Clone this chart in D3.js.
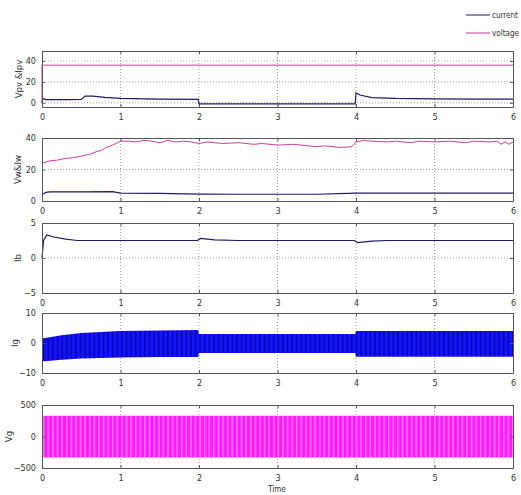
<!DOCTYPE html>
<html>
<head>
<meta charset="utf-8">
<script src="https://cdn.jsdelivr.net/npm/d3@7"></script>
<style>
  body { margin: 0; background: #fff; }
  text { font-family: "Liberation Sans Narrow", "DejaVu Sans Condensed", sans-serif; fill: #333; }
</style>
</head>
<body>
<script>
// Data (time in s)
const xTicks = [0, 1, 2, 3, 4, 5, 6];

// panel 1: PV voltage and current
const pvTime    = [0, 0, 0.02, 6];
const pvVoltage = [0, 36, 36, 36];
const pvCurTime = [0, 0.01, 0.05, 0.3, 0.5, 0.55, 0.65, 0.8, 1.0, 1.5, 1.99, 2.0, 3.99, 4.0, 4.05, 4.2, 4.5, 5, 5.5, 6];
const pvCurrent = [0, 4, 3, 3, 3.3, 6.5, 6.3, 5.2, 4.2, 3.6, 3.3, -1, -1, 9.5, 7.5, 5, 4.2, 3.7, 3.6, 3.5];

// panel 2: wind voltage and current
const wVoltTime = [0, 0.1, 0.2, 0.3, 0.4, 0.5, 0.55, 0.6, 0.7, 0.75, 0.8, 0.9, 1.0, 1.1, 1.2, 1.3, 1.4, 1.5, 1.6, 1.7, 1.8, 1.9, 2.0, 2.1, 2.2, 2.3, 2.5, 2.7, 2.8, 3.0, 3.2, 3.4, 3.5, 3.6, 3.8, 3.95, 4.0, 4.1, 4.2, 4.4, 4.5, 4.7, 4.8, 5.0, 5.2, 5.4, 5.5, 5.7, 5.8, 5.85, 5.9, 5.95, 6];
const wVoltage  = [24, 25.5, 26, 27, 27.5, 28.5, 29, 29.5, 31.5, 32, 33.5, 35.5, 38, 38, 37.5, 38.5, 38, 37, 38.5, 37.5, 38, 37.5, 36.5, 37.5, 37, 36.5, 37, 36, 36.5, 35.5, 36, 35, 34.5, 35, 34, 34.5, 37.5, 38.5, 38, 37.5, 38, 37, 38, 37.5, 38, 37, 38, 37.5, 38, 36, 37.5, 36, 37.5];
const wCurTime  = [0, 0.05, 0.1, 0.5, 0.9, 1.0, 1.5, 2.0, 2.5, 3.0, 3.5, 4.0, 4.5, 5.0, 5.5, 6];
const wCurrent  = [4, 5.5, 5.8, 5.8, 6, 5, 4.8, 4.4, 4.3, 4.3, 4.3, 5, 5, 5, 5, 5];

// panel 3: battery current
const ibTime    = [0, 0.02, 0.06, 0.15, 0.3, 0.45, 1.0, 1.5, 1.98, 2.02, 2.2, 2.5, 3.0, 3.5, 3.98, 4.02, 4.2, 4.4, 5.0, 6];
const ibValue   = [0, 2.5, 3.3, 3.0, 2.7, 2.5, 2.5, 2.5, 2.5, 2.8, 2.6, 2.5, 2.5, 2.5, 2.5, 2.2, 2.4, 2.5, 2.5, 2.5];

// panel 4: grid current envelope (dense oscillation)
const igTime    = [0, 0.25, 0.5, 1.0, 1.5, 1.99, 2.0, 3.0, 3.99, 4.0, 5.0, 6];
const igUpper   = [1.5, 2.6, 3.3, 4.0, 4.2, 4.3, 3.0, 3.0, 3.0, 4.0, 4.0, 4.0];
const igLower   = [-6.2, -5.6, -5.2, -4.8, -4.7, -4.7, -3.3, -3.3, -3.3, -4.6, -4.6, -4.6];

// panel 5: grid voltage envelope
const vgTime    = [0, 6];
const vgUpper   = [330, 330];
const vgLower   = [-335, -335];

const yTicks = [[0, 20, 40], [0, 20, 40], [-5, 0, 5], [-10, 0, 10], [-500, 0, 500]];
const yLabels = ["Vpv &Ipv", "Vw&Iw", "Ib", "Ig", "Vg"];
const legendNames = ["current", "voltage"];

// layout
const W = 521, H = 495;
const left = 42, right = 513;
const panels = [
  { top: 51,  bottom: 107, domain: [-4, 49.5], labelX: 22 },
  { top: 138, bottom: 201, domain: [0, 40],    labelX: 21 },
  { top: 223, bottom: 293, domain: [-5, 5],    labelX: 21 },
  { top: 313, bottom: 373, domain: [-10, 10],  labelX: 18 },
  { top: 405, bottom: 468, domain: [-500, 500], labelX: 12 }
];
const navy = "#1c1c66", pink = "#cc3d9e", blue = "#1414ff", magenta = "#ff1aff";

const svg = d3.select("body").append("svg")
    .attr("width", W)
    .attr("height", H);

// stripe textures for the dense AC signals
const defs = svg.append("defs");
function stripes(id, base, stripe, op) {
  const p = defs.append("pattern").attr("id", id)
      .attr("patternUnits", "userSpaceOnUse")
      .attr("x", left).attr("width", 4.6).attr("height", 10);
  p.append("rect").attr("width", 4.6).attr("height", 10).attr("fill", base);
  p.append("rect").attr("x", 1).attr("width", 1.4).attr("height", 10)
      .attr("fill", stripe).attr("opacity", op);
}
stripes("blueStripe", blue, "#00008c", 0.8);
stripes("pinkStripe", magenta, "#ff90ff", 0.8);

const x = d3.scaleLinear().domain([0, 6]).range([left, right]);

const zip = (ts, vs) => ts.map((t, i) => [t, vs[i]]);
const zip3 = (ts, a, b) => ts.map((t, i) => [t, a[i], b[i]]);

panels.forEach((p, k) => {
  const y = d3.scaleLinear().domain(p.domain).range([p.bottom, p.top]);
  const g = svg.append("g");

  // grid
  g.selectAll(".gx").data(xTicks.slice(1, -1)).enter().append("line")
      .attr("x1", d => x(d)).attr("x2", d => x(d))
      .attr("y1", p.top).attr("y2", p.bottom)
      .attr("stroke", "#888").attr("stroke-width", 0.8).attr("stroke-dasharray", "1,2");
  g.selectAll(".gy").data(yTicks[k].filter(v => y(v) > p.top + 1 && y(v) < p.bottom - 1)).enter().append("line")
      .attr("x1", left).attr("x2", right)
      .attr("y1", d => y(d)).attr("y2", d => y(d))
      .attr("stroke", "#888").attr("stroke-width", 0.8).attr("stroke-dasharray", "1,2");

  const line = d3.line().x(d => x(d[0])).y(d => y(d[1]));
  const band = d3.area().x(d => x(d[0])).y0(d => y(d[2])).y1(d => y(d[1]));

  if (k === 0) {
    g.append("path").datum(zip(pvTime, pvVoltage)).attr("d", line)
        .attr("fill", "none").attr("stroke", pink).attr("stroke-width", 1);
    g.append("path").datum(zip(pvCurTime, pvCurrent)).attr("d", line)
        .attr("fill", "none").attr("stroke", navy).attr("stroke-width", 1.2);
  } else if (k === 1) {
    g.append("path").datum(zip(wVoltTime, wVoltage)).attr("d", line)
        .attr("fill", "none").attr("stroke", pink).attr("stroke-width", 1);
    g.append("path").datum(zip(wCurTime, wCurrent)).attr("d", line)
        .attr("fill", "none").attr("stroke", navy).attr("stroke-width", 1.2);
  } else if (k === 2) {
    g.append("path").datum(zip(ibTime, ibValue)).attr("d", line)
        .attr("fill", "none").attr("stroke", navy).attr("stroke-width", 1.2);
  } else if (k === 3) {
    g.append("path").datum(zip3(igTime, igUpper, igLower)).attr("d", band)
        .attr("fill", "url(#blueStripe)");
  } else {
    g.append("path").datum(zip3(vgTime, vgUpper, vgLower)).attr("d", band)
        .attr("fill", "url(#pinkStripe)");
  }

  // frame with inward ticks on all sides
  const ax = (a, tr) => g.append("g").attr("transform", tr).call(a)
      .call(s => s.select(".domain").attr("stroke", "#555"))
      .call(s => s.selectAll(".tick line").attr("stroke", "#555"))
      .call(s => s.selectAll("text").attr("fill", "#333").attr("font-size", 9)
        .attr("font-family", "'Liberation Sans Narrow', 'DejaVu Sans Condensed', sans-serif"));

  ax(d3.axisBottom(x).tickValues(xTicks).tickFormat(d3.format("d")).tickSizeInner(-3).tickSizeOuter(0).tickPadding(7),
     `translate(0,${p.bottom})`);
  ax(d3.axisTop(x).tickValues(xTicks).tickFormat("").tickSizeInner(-3).tickSizeOuter(0),
     `translate(0,${p.top})`);
  ax(d3.axisLeft(y).tickValues(yTicks[k]).tickFormat(d3.format("d")).tickSizeInner(-3).tickSizeOuter(0).tickPadding(6),
     `translate(${left},0)`);
  ax(d3.axisRight(y).tickValues(yTicks[k]).tickFormat("").tickSizeInner(-3).tickSizeOuter(0),
     `translate(${right},0)`);

  svg.append("text")
      .attr("transform", `translate(${p.labelX},${(p.top + p.bottom) / 2}) rotate(-90)`)
      .attr("text-anchor", "middle")
      .attr("font-size", 9.5)
      .text(yLabels[k]);
});

svg.append("text").attr("x", 277).attr("y", 492)
    .attr("text-anchor", "middle").attr("font-size", 8).text("Time");

// legend
const leg = svg.append("g");
legendNames.forEach((n, i) => {
  const yy = 15 + i * 18;
  leg.append("line").attr("x1", 466).attr("x2", 490).attr("y1", yy).attr("y2", yy)
      .attr("stroke", i === 0 ? navy : pink).attr("stroke-width", 1);
  leg.append("text").attr("x", 492).attr("y", yy + 3).attr("font-size", 8).text(n);
});
</script>
</body>
</html>
